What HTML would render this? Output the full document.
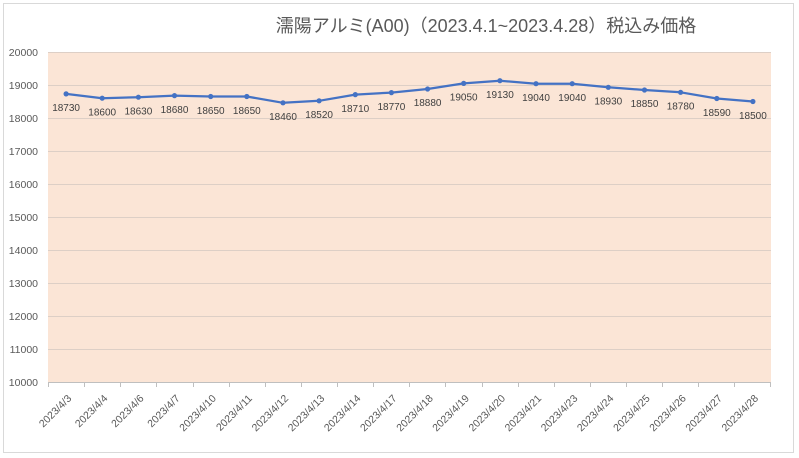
<!DOCTYPE html>
<html><head><meta charset="utf-8">
<style>
html,body{margin:0;padding:0;background:#fff;}
svg{display:block;}
text{font-family:"Liberation Sans","Noto Sans CJK JP",sans-serif;}
</style></head>
<body>
<svg width="799" height="458" viewBox="0 0 799 458" xmlns="http://www.w3.org/2000/svg">
<rect x="0" y="0" width="799" height="458" fill="#fff"/>
<rect x="3.5" y="3.5" width="790" height="449" fill="#fff" stroke="#D9D9D9" stroke-width="1"/>
<text x="486" y="32" font-size="18" fill="#595959" text-anchor="middle">濡陽アルミ(A00)（2023.4.1~2023.4.28）税込み価格</text>
<rect x="48" y="52" width="723" height="330" fill="#FBE5D6"/>
<g stroke="#DDCFC6" stroke-width="1">
<line x1="48" y1="52.5" x2="771" y2="52.5"/>
<line x1="48" y1="85.5" x2="771" y2="85.5"/>
<line x1="48" y1="118.5" x2="771" y2="118.5"/>
<line x1="48" y1="151.5" x2="771" y2="151.5"/>
<line x1="48" y1="184.5" x2="771" y2="184.5"/>
<line x1="48" y1="217.5" x2="771" y2="217.5"/>
<line x1="48" y1="250.5" x2="771" y2="250.5"/>
<line x1="48" y1="283.5" x2="771" y2="283.5"/>
<line x1="48" y1="316.5" x2="771" y2="316.5"/>
<line x1="48" y1="349.5" x2="771" y2="349.5"/>
</g>
<line x1="48" y1="382.5" x2="771" y2="382.5" stroke="#BFBFBF" stroke-width="1"/>
<g stroke="#BFBFBF" stroke-width="1">
<line x1="48.5" y1="382" x2="48.5" y2="387"/>
<line x1="84.5" y1="382" x2="84.5" y2="387"/>
<line x1="120.5" y1="382" x2="120.5" y2="387"/>
<line x1="156.5" y1="382" x2="156.5" y2="387"/>
<line x1="193.5" y1="382" x2="193.5" y2="387"/>
<line x1="229.5" y1="382" x2="229.5" y2="387"/>
<line x1="265.5" y1="382" x2="265.5" y2="387"/>
<line x1="301.5" y1="382" x2="301.5" y2="387"/>
<line x1="337.5" y1="382" x2="337.5" y2="387"/>
<line x1="373.5" y1="382" x2="373.5" y2="387"/>
<line x1="409.5" y1="382" x2="409.5" y2="387"/>
<line x1="445.5" y1="382" x2="445.5" y2="387"/>
<line x1="482.5" y1="382" x2="482.5" y2="387"/>
<line x1="518.5" y1="382" x2="518.5" y2="387"/>
<line x1="554.5" y1="382" x2="554.5" y2="387"/>
<line x1="590.5" y1="382" x2="590.5" y2="387"/>
<line x1="626.5" y1="382" x2="626.5" y2="387"/>
<line x1="662.5" y1="382" x2="662.5" y2="387"/>
<line x1="698.5" y1="382" x2="698.5" y2="387"/>
<line x1="734.5" y1="382" x2="734.5" y2="387"/>
<line x1="770.5" y1="382" x2="770.5" y2="387"/>
</g>
<g font-size="10.5" fill="#595959" text-anchor="end">
<text x="38" y="56">20000</text>
<text x="38" y="89">19000</text>
<text x="38" y="122">18000</text>
<text x="38" y="155">17000</text>
<text x="38" y="188">16000</text>
<text x="38" y="221">15000</text>
<text x="38" y="254">14000</text>
<text x="38" y="287">13000</text>
<text x="38" y="320">12000</text>
<text x="38" y="353">11000</text>
<text x="38" y="386">10000</text>
</g>
<polyline fill="none" stroke="#4472C4" stroke-width="2.25" stroke-linejoin="round" points="66.1,93.9 102.2,98.2 138.4,97.2 174.5,95.6 210.7,96.5 246.8,96.5 283.0,102.8 319.1,100.8 355.3,94.6 391.4,92.6 427.6,89.0 463.7,83.4 499.9,80.7 536.0,83.7 572.2,83.7 608.3,87.3 644.5,90.0 680.6,92.3 716.8,98.5 752.9,101.5"/>
<g fill="#4472C4">
<circle cx="66.1" cy="93.9" r="2.6"/><circle cx="102.2" cy="98.2" r="2.6"/><circle cx="138.4" cy="97.2" r="2.6"/><circle cx="174.5" cy="95.6" r="2.6"/><circle cx="210.7" cy="96.5" r="2.6"/><circle cx="246.8" cy="96.5" r="2.6"/><circle cx="283.0" cy="102.8" r="2.6"/><circle cx="319.1" cy="100.8" r="2.6"/><circle cx="355.3" cy="94.6" r="2.6"/><circle cx="391.4" cy="92.6" r="2.6"/><circle cx="427.6" cy="89.0" r="2.6"/><circle cx="463.7" cy="83.4" r="2.6"/><circle cx="499.9" cy="80.7" r="2.6"/><circle cx="536.0" cy="83.7" r="2.6"/><circle cx="572.2" cy="83.7" r="2.6"/><circle cx="608.3" cy="87.3" r="2.6"/><circle cx="644.5" cy="90.0" r="2.6"/><circle cx="680.6" cy="92.3" r="2.6"/><circle cx="716.8" cy="98.5" r="2.6"/><circle cx="752.9" cy="101.5" r="2.6"/>
</g>
<g font-size="10" fill="#404040" text-anchor="middle">
<text x="66.1" y="111">18730</text>
<text x="102.2" y="115.5">18600</text>
<text x="138.4" y="114.5">18630</text>
<text x="174.5" y="113">18680</text>
<text x="210.7" y="114">18650</text>
<text x="246.8" y="114">18650</text>
<text x="283.0" y="120">18460</text>
<text x="319.1" y="118">18520</text>
<text x="355.3" y="112">18710</text>
<text x="391.4" y="110">18770</text>
<text x="427.6" y="106">18880</text>
<text x="463.7" y="100.5">19050</text>
<text x="499.9" y="98">19130</text>
<text x="536.0" y="101">19040</text>
<text x="572.2" y="101">19040</text>
<text x="608.3" y="104.5">18930</text>
<text x="644.5" y="107">18850</text>
<text x="680.6" y="109.5">18780</text>
<text x="716.8" y="116">18590</text>
<text x="752.9" y="119">18500</text>
</g>
<g font-size="10.5" fill="#595959" text-anchor="end">
<text transform="translate(72.1,399) rotate(-45)">2023/4/3</text>
<text transform="translate(108.2,399) rotate(-45)">2023/4/4</text>
<text transform="translate(144.4,399) rotate(-45)">2023/4/6</text>
<text transform="translate(180.5,399) rotate(-45)">2023/4/7</text>
<text transform="translate(216.7,399) rotate(-45)">2023/4/10</text>
<text transform="translate(252.8,399) rotate(-45)">2023/4/11</text>
<text transform="translate(289.0,399) rotate(-45)">2023/4/12</text>
<text transform="translate(325.1,399) rotate(-45)">2023/4/13</text>
<text transform="translate(361.3,399) rotate(-45)">2023/4/14</text>
<text transform="translate(397.4,399) rotate(-45)">2023/4/17</text>
<text transform="translate(433.6,399) rotate(-45)">2023/4/18</text>
<text transform="translate(469.7,399) rotate(-45)">2023/4/19</text>
<text transform="translate(505.9,399) rotate(-45)">2023/4/20</text>
<text transform="translate(542.0,399) rotate(-45)">2023/4/21</text>
<text transform="translate(578.2,399) rotate(-45)">2023/4/23</text>
<text transform="translate(614.3,399) rotate(-45)">2023/4/24</text>
<text transform="translate(650.5,399) rotate(-45)">2023/4/25</text>
<text transform="translate(686.6,399) rotate(-45)">2023/4/26</text>
<text transform="translate(722.8,399) rotate(-45)">2023/4/27</text>
<text transform="translate(758.9,399) rotate(-45)">2023/4/28</text>
</g>
</svg>
</body></html>
